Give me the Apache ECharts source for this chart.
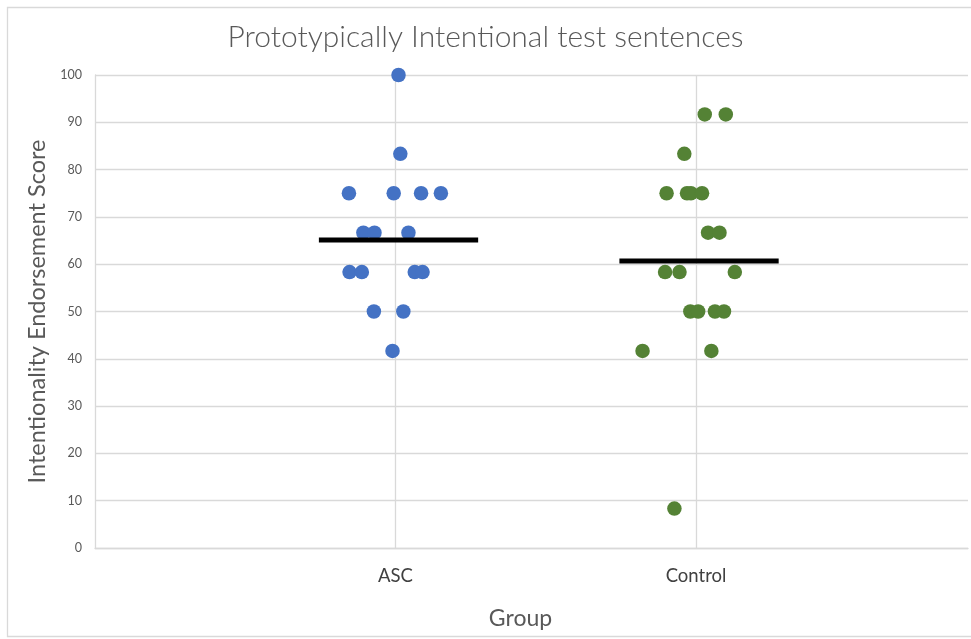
<!DOCTYPE html>
<html>
<head>
<meta charset="utf-8">
<script src="https://cdn.jsdelivr.net/npm/echarts@6/dist/echarts.min.js"></script>
<style>html,body{margin:0;padding:0;background:#fff}#c{width:971px;height:639px}</style>
</head>
<body>
<div id="c"></div>
<script>
const chartTitle = 'Prototypically Intentional test sentences';
const yTitle = 'Intentionality Endorsement Score';
const xTitle = 'Group';
const groups = ['ASC', 'Control'];
const yTicks = [0, 10, 20, 30, 40, 50, 60, 70, 80, 90, 100];

// ASC: jittered x positions (group 1) and scores
const ascX = [1.010, 1.016, 0.845, 0.994, 1.085, 1.151, 0.893, 0.930, 1.043, 0.847, 0.888, 1.064, 1.090, 0.928, 1.026, 0.990];
const ascY = [100, 83.33, 75, 75, 75, 75, 66.67, 66.67, 66.67, 58.33, 58.33, 58.33, 58.33, 50, 50, 41.67];

// Control: jittered x positions (group 2) and scores
const ctlX = [2.029, 2.099, 1.961, 1.902, 1.970, 1.983, 2.020, 2.040, 2.078, 1.897, 1.945, 2.129, 1.981, 2.007, 2.063, 2.093, 1.822, 2.051, 1.928];
const ctlY = [91.67, 91.67, 83.33, 75, 75, 75, 75, 66.67, 66.67, 58.33, 58.33, 58.33, 50, 50, 50, 50, 41.67, 41.67, 8.33];

// Group means drawn as horizontal bars
const ascMean = 65.1;
const ctlMean = 60.7;
const meanSpanLo = -0.255;
const meanSpanHi = 0.275;

const zip = (xs, ys) => xs.map((x, i) => [x, ys[i]]);
const font = 'Lato, "Noto Sans", sans-serif';

const chart = echarts.init(document.getElementById('c'), null, {renderer: 'canvas'});
chart.setOption({
  animation: false,
  backgroundColor: '#fff',
  graphic: [{
    type: 'rect', left: 5, top: 5, silent: true,
    shape: {width: 1000, height: 629},
    style: {fill: 'none', stroke: '#d9d9d9', lineWidth: 1.3}
  }],
  title: {
    text: chartTitle, left: 'center', top: 17,
    textStyle: {fontFamily: font, fontSize: 30, fontWeight: 300, color: '#595959'}
  },
  grid: {left: 95, right: 3, top: 75, bottom: 91, containLabel: false},
  xAxis: {
    type: 'value', min: 0, max: 2.905, interval: 1,
    name: xTitle, nameLocation: 'middle', nameGap: 59,
    nameTextStyle: {fontFamily: font, fontSize: 23, color: '#595959', padding: [0, 22, 0, 0]},
    axisLine: {show: true, lineStyle: {color: '#d9d9d9', width: 1.3}},
    axisTick: {show: false},
    axisLabel: {
      margin: 19, fontFamily: font, fontSize: 18.5, color: '#404040',
      showMaxLabel: false,
      formatter: v => (v >= 1 && v <= groups.length && Number.isInteger(v)) ? groups[v - 1] : ''
    },
    splitLine: {show: true, showMinLine: false, showMaxLine: false, lineStyle: {color: '#d9d9d9', width: 1.3}}
  },
  yAxis: {
    type: 'value', min: yTicks[0], max: yTicks[yTicks.length - 1], interval: yTicks[1] - yTicks[0],
    name: yTitle, nameLocation: 'middle', nameGap: 38, nameRotate: 90,
    nameTextStyle: {fontFamily: font, fontSize: 23.5, color: '#595959'},
    axisLine: {show: true, lineStyle: {color: '#d9d9d9', width: 1.3}},
    axisTick: {show: false},
    axisLabel: {margin: 13, fontFamily: font, fontSize: 12.5, color: '#595959'},
    splitLine: {show: true, lineStyle: {color: '#d9d9d9', width: 1.3}}
  },
  series: [
    {
      name: 'ASC', type: 'scatter', symbol: 'circle', symbolSize: 14.5,
      itemStyle: {color: '#4472C4', opacity: 1},
      data: zip(ascX, ascY), z: 3
    },
    {
      name: 'Control', type: 'scatter', symbol: 'circle', symbolSize: 14.5,
      itemStyle: {color: '#548235', opacity: 1},
      data: zip(ctlX, ctlY), z: 3
    },
    {
      type: 'line', symbol: 'none', silent: true,
      lineStyle: {color: '#000', width: 5},
      data: [[1 + meanSpanLo, ascMean], [1 + meanSpanHi, ascMean]], z: 4
    },
    {
      type: 'line', symbol: 'none', silent: true,
      lineStyle: {color: '#000', width: 5},
      data: [[2 + meanSpanLo, ctlMean], [2 + meanSpanHi, ctlMean]], z: 4
    }
  ]
});
</script>
</body>
</html>
